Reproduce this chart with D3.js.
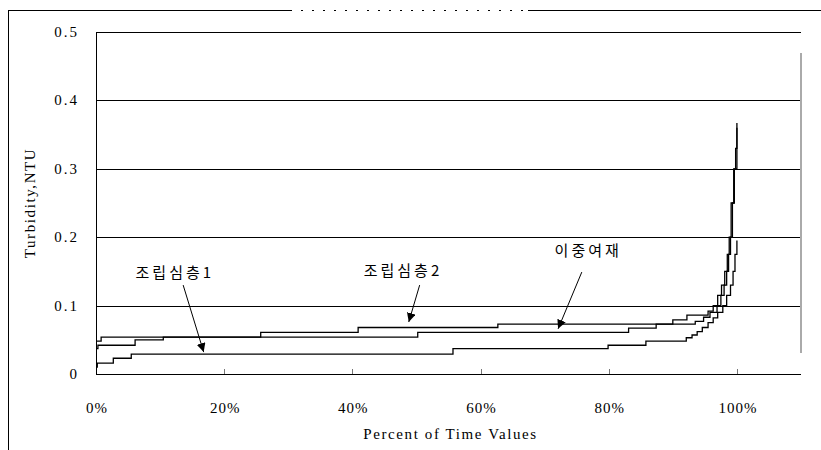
<!DOCTYPE html>
<html>
<head>
<meta charset="utf-8">
<script src="https://cdn.jsdelivr.net/npm/d3@7"></script>
<style>
  body { margin: 0; background: #fff; }
  svg { display: block; }
</style>
</head>
<body>
<div id="chart"></div>
<script>
// duration curves: [fraction of time, turbidity NTU]
const seriesNames = ["조립심층1", "이중여재", "조립심층2"];
const filter1 = [[0,0.01],[0.002,0.016],[0.027,0.023],[0.055,0.029],[0.557,0.037],[0.799,0.042],[0.858,0.048],[0.921,0.053],[0.93,0.057],[0.938,0.062],[0.946,0.068],[0.955,0.075],[0.963,0.082],[0.97,0.09],[0.978,0.1],[0.984,0.115],[0.99,0.13],[0.994,0.15],[0.997,0.175],[1.0,0.195]];
const dualMedia = [[0,0.037],[0.003,0.042],[0.061,0.05],[0.105,0.054],[0.502,0.061],[0.831,0.067],[0.874,0.073],[0.935,0.077],[0.948,0.083],[0.958,0.09],[0.969,0.1],[0.975,0.115],[0.98,0.13],[0.984,0.15],[0.987,0.175],[0.99,0.2],[0.993,0.25],[0.996,0.3],[1.0,0.36]];
const filter2 = [[0,0.048],[0.008,0.054],[0.257,0.061],[0.409,0.068],[0.627,0.073],[0.9,0.079],[0.922,0.086],[0.955,0.092],[0.963,0.1],[0.97,0.115],[0.976,0.13],[0.981,0.15],[0.985,0.175],[0.988,0.2],[0.991,0.25],[0.995,0.3],[0.998,0.33],[1.0,0.367]];

const yTicks = [0, 0.1, 0.2, 0.3, 0.4, 0.5];
const yTickLabels = ["0", "0.1", "0.2", "0.3", "0.4", "0.5"];
const xTicks = [0, 0.2, 0.4, 0.6, 0.8, 1.0];
const xTickLabels = ["0%", "20%", "40%", "60%", "80%", "100%"];

// label anchor and arrow start/tip, in data units
const labelPos = [[0.123, 0.149], [0.768, 0.181], [0.479, 0.152]];
const arrowFrom = [[0.136, 0.130], [0.758, 0.149], [0.505, 0.130]];
const arrowTo = [[0.168, 0.032], [0.721, 0.066], [0.488, 0.076]];

const width = 821, height = 450;
const serifFont = "'Liberation Serif', 'DejaVu Serif', serif";
const krFont = "'Noto Sans CJK KR', sans-serif";

const svg = d3.select("#chart").append("svg")
    .attr("width", width)
    .attr("height", height);

const x = d3.scaleLinear().domain([0, 1.1]).range([96, 801]);
const y = d3.scaleLinear().domain([0, 0.5]).range([374, 32]);

// outer chart frame (partly clipped in the original)
const frame = svg.append("g")
    .attr("fill", "none").attr("stroke", "#000").attr("stroke-width", 1)
    .attr("shape-rendering", "crispEdges");
frame.append("path").attr("d", `M8.5,${height}V10.5H290`);
frame.append("path").attr("d", "M290,10.5H528").attr("stroke-dasharray", "2,9");
frame.append("path").attr("d", `M528,10.5H${width}`);

const grid = svg.append("g").attr("shape-rendering", "crispEdges");

// gridlines
grid.selectAll("line.grid")
    .data(yTicks.filter(d => d > 0))
    .enter().append("line")
    .attr("class", "grid")
    .attr("x1", x(0)).attr("x2", x(1.1))
    .attr("y1", d => Math.round(y(d)) + 0.5).attr("y2", d => Math.round(y(d)) + 0.5)
    .attr("stroke", "#000").attr("stroke-width", 1);

// faint right edge
grid.append("line")
    .attr("x1", x(1.1)).attr("x2", x(1.1))
    .attr("y1", y(0.47)).attr("y2", y(0.03))
    .attr("stroke", "#aaa").attr("stroke-width", 2);

// axes lines
grid.append("line").attr("x1", x(0) + 0.5).attr("x2", x(0) + 0.5)
    .attr("y1", y(0.5)).attr("y2", y(0) + 0.5)
    .attr("stroke", "#000").attr("stroke-width", 1);
grid.append("line").attr("x1", x(0)).attr("x2", x(1.1))
    .attr("y1", y(0) + 0.5).attr("y2", y(0) + 0.5)
    .attr("stroke", "#000").attr("stroke-width", 1.5);

// x ticks (inside)
grid.selectAll("line.tick")
    .data(xTicks.filter(d => d > 0))
    .enter().append("line")
    .attr("class", "tick")
    .attr("x1", d => Math.round(x(d)) + 0.5).attr("x2", d => Math.round(x(d)) + 0.5)
    .attr("y1", y(0) - 5).attr("y2", y(0))
    .attr("stroke", "#777").attr("stroke-width", 1);

// tick labels
svg.append("g").selectAll("text")
    .data(yTicks)
    .enter().append("text")
    .attr("x", 79)
    .attr("y", d => y(d) + 5)
    .attr("text-anchor", "end")
    .style("font-family", serifFont)
    .style("font-size", "15px")
    .style("letter-spacing", "2px")
    .text((d, i) => yTickLabels[i]);

svg.append("g").selectAll("text")
    .data(xTicks)
    .enter().append("text")
    .attr("x", d => x(d) + 1)
    .attr("y", 413)
    .attr("text-anchor", "middle")
    .style("font-family", serifFont)
    .style("font-size", "15px")
    .style("letter-spacing", "1px")
    .text((d, i) => xTickLabels[i]);

// axis titles
svg.append("text")
    .attr("x", (x(0) + x(1.1)) / 2 + 2)
    .attr("y", 439)
    .attr("text-anchor", "middle")
    .style("font-family", serifFont)
    .style("font-size", "15px")
    .style("letter-spacing", "1.6px")
    .text("Percent of Time Values");

svg.append("text")
    .attr("transform", `translate(35,${(y(0) + y(0.5)) / 2}) rotate(-90)`)
    .attr("text-anchor", "middle")
    .style("font-family", serifFont)
    .style("font-size", "15px")
    .style("letter-spacing", "1.6px")
    .text("Turbidity,NTU");

// step curves
const line = d3.line()
    .x(d => x(d[0]))
    .y(d => y(d[1]))
    .curve(d3.curveStepAfter);

svg.append("g").selectAll("path")
    .data([filter1, dualMedia, filter2])
    .enter().append("path")
    .attr("d", line)
    .attr("fill", "none")
    .attr("stroke", "#000")
    .attr("stroke-width", 1.3);

// annotations
svg.append("defs").append("marker")
    .attr("id", "arrow")
    .attr("viewBox", "0 0 10 10")
    .attr("refX", 10).attr("refY", 5)
    .attr("markerWidth", 9).attr("markerHeight", 9)
    .attr("markerUnits", "userSpaceOnUse")
    .attr("orient", "auto")
    .append("path")
    .attr("d", "M0,0L10,5L0,10Z")
    .attr("fill", "#000");

seriesNames.forEach((name, i) => {
    svg.append("text")
        .attr("x", x(labelPos[i][0]))
        .attr("y", y(labelPos[i][1]) + 6)
        .attr("text-anchor", "middle")
        .style("font-family", krFont)
        .style("font-size", "15px")
        .style("letter-spacing", "3px")
        .text(name);
    svg.append("line")
        .attr("x1", x(arrowFrom[i][0])).attr("y1", y(arrowFrom[i][1]))
        .attr("x2", x(arrowTo[i][0])).attr("y2", y(arrowTo[i][1]))
        .attr("stroke", "#000").attr("stroke-width", 1)
        .attr("marker-end", "url(#arrow)");
});
</script>
</body>
</html>
